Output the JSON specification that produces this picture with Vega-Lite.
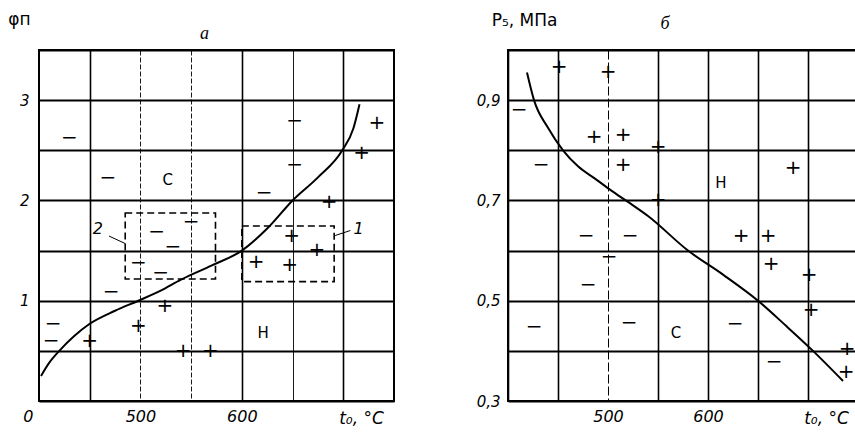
{
  "$schema": "https://vega.github.io/schema/vega-lite/v6.json",
  "background": "white",
  "padding": {"left": 6, "top": 9, "right": 0, "bottom": 0},
  "bounds": "flush",
  "spacing": 114,
  "config": {
    "font": "DejaVu Sans",
    "view": {"stroke": "black", "strokeWidth": 2},
    "axis": {"labelColor": "black", "titleColor": "black", "labelFontStyle": "italic", "labelFont": "DejaVu Sans", "ticks": false, "domain": false, "gridColor": "black", "gridOpacity": 1, "labelOverlap": false, "labelFlush": false, "titleFontWeight": "normal", "titleFont": "DejaVu Sans"},
    "axisX": {"labelFontSize": 16},
    "axisY": {"labelFontSize": 15}
  },
  "datasets": {
    "lc": [{"t":402,"v":0.25},{"t":410,"v":0.38},{"t":420,"v":0.5},{"t":435,"v":0.65},{"t":450,"v":0.77},{"t":475,"v":0.9},{"t":498,"v":1.0},{"t":520,"v":1.1},{"t":540,"v":1.21},{"t":570,"v":1.35},{"t":600,"v":1.5},{"t":625,"v":1.72},{"t":650,"v":2.0},{"t":675,"v":2.23},{"t":699,"v":2.5},{"t":710,"v":2.72},{"t":716,"v":2.96}],
    "lm": [
      {"t":430,"v":2.62,"s":"−"},{"t":468,"v":2.22,"s":"−"},{"t":652,"v":2.79,"s":"−"},{"t":652,"v":2.35,"s":"−"},{"t":622,"v":2.07,"s":"−"},
      {"t":733,"v":2.77,"s":"+"},{"t":718,"v":2.47,"s":"+"},{"t":686,"v":1.98,"s":"+"},
      {"t":516,"v":1.69,"s":"−"},{"t":550,"v":1.78,"s":"−"},{"t":532,"v":1.54,"s":"−"},{"t":498,"v":1.38,"s":"−"},{"t":520,"v":1.28,"s":"−"},
      {"t":471,"v":1.09,"s":"−"},{"t":414,"v":0.77,"s":"−"},{"t":412,"v":0.6,"s":"−"},
      {"t":450,"v":0.6,"s":"+"},{"t":498,"v":0.75,"s":"+"},{"t":524,"v":0.95,"s":"+"},{"t":542,"v":0.5,"s":"+"},{"t":569,"v":0.5,"s":"+"},
      {"t":649,"v":1.65,"s":"+"},{"t":674,"v":1.51,"s":"+"},{"t":614,"v":1.39,"s":"+"},{"t":647,"v":1.36,"s":"+"}
    ],
    "ll": [{"t":527,"v":2.2,"s":"С"},{"t":621,"v":0.68,"s":"Н"}],
    "ln": [{"t":458,"v":1.72,"s":"2"},{"t":715,"v":1.72,"s":"1"}],
    "lb": [{"t":485,"t2":574,"v":1.217,"v2":1.875},{"t":600,"t2":691,"v":1.19,"v2":1.745}],
    "lr": [{"t":469,"v":1.645,"t2":485,"v2":1.57},{"t":692,"v":1.65,"t2":707,"v2":1.7}],
    "rc": [{"t":419,"v":0.955},{"t":426,"v":0.9},{"t":440,"v":0.845},{"t":455,"v":0.8},{"t":470,"v":0.768},{"t":488,"v":0.742},{"t":503,"v":0.72},{"t":520,"v":0.697},{"t":540,"v":0.669},{"t":580,"v":0.6},{"t":615,"v":0.552},{"t":650,"v":0.5},{"t":678,"v":0.45},{"t":705,"v":0.4},{"t":735,"v":0.34}],
    "rm": [
      {"t":451,"v":0.967,"s":"+"},{"t":500,"v":0.956,"s":"+"},{"t":411,"v":0.88,"s":"−"},{"t":486,"v":0.827,"s":"+"},{"t":515,"v":0.83,"s":"+"},{"t":550,"v":0.807,"s":"+"},
      {"t":433,"v":0.77,"s":"−"},{"t":515,"v":0.77,"s":"+"},{"t":685,"v":0.765,"s":"+"},{"t":550,"v":0.7,"s":"+"},
      {"t":478,"v":0.63,"s":"−"},{"t":522,"v":0.63,"s":"−"},{"t":633,"v":0.63,"s":"+"},{"t":660,"v":0.63,"s":"+"},
      {"t":501,"v":0.587,"s":"−"},{"t":480,"v":0.531,"s":"−"},{"t":663,"v":0.573,"s":"+"},{"t":701,"v":0.551,"s":"+"},{"t":703,"v":0.482,"s":"+"},
      {"t":426,"v":0.448,"s":"−"},{"t":521,"v":0.456,"s":"−"},{"t":627,"v":0.454,"s":"−"},{"t":666,"v":0.378,"s":"−"},{"t":739,"v":0.404,"s":"+"},{"t":738,"v":0.358,"s":"+"}
    ],
    "rl": [{"t":613,"v":0.735,"s":"Н"},{"t":568,"v":0.436,"s":"С"}]
  },
  "hconcat": [
    {
      "width": 355,
      "height": 351,
      "title": {"text": "а", "frame": "group", "font": "Liberation Serif", "fontStyle": "italic", "fontWeight": "normal", "fontSize": 18, "offset": -33, "dx": -12},
      "layer": [
        {
          "data": {"name": "lc"},
          "mark": {"type": "line", "color": "black", "strokeWidth": 2, "interpolate": "monotone"},
          "encoding": {
            "x": {"field": "t", "type": "quantitative", "scale": {"domain": [400, 750], "nice": false, "zero": false},
              "axis": {"values": [400,450,500,550,600,650,700,750], "grid": true,
                "labelExpr": "datum.value == 400 ? '0' : (datum.value == 500 || datum.value == 600) ? datum.label : ''",
                "labelAlign": {"condition": {"test": "datum.value == 400", "value": "right"}, "value": "center"},
                "labelOffset": {"condition": {"test": "datum.value == 400", "value": -6}, "value": 0},
                "labelPadding": 7,
                "gridWidth": {"condition": {"test": "datum.value == 450 || datum.value == 600 || datum.value == 700", "value": 1.6}, "value": 0.9},
                "gridDash": {"condition": {"test": "datum.value == 500 || datum.value == 550", "value": [5, 2]}, "value": []},
                "title": "t₀, °C", "titleX": 322, "titleY": 22, "titleAlign": "center", "titleBaseline": "alphabetic", "titleFontSize": 17, "titleFontStyle": "italic"}},
            "y": {"field": "v", "type": "quantitative", "scale": {"domain": [0, 3.5], "nice": false, "zero": false},
              "axis": {"values": [0,0.5,1,1.5,2,2.5,3,3.5], "grid": true, "gridWidth": 1.8,
                "labelExpr": "(datum.value == 1 || datum.value == 2 || datum.value == 3) ? format(datum.value, 'd') : ''",
                "labelPadding": 10,
                "title": "φп", "titleAngle": 0, "titleX": -20, "titleY": -26, "titleAlign": "center", "titleBaseline": "alphabetic", "titleFontSize": 17, "titleFontStyle": "normal"}}
          }
        },
        {
          "data": {"name": "lb"},
          "mark": {"type": "rect", "fillOpacity": 0, "stroke": "black", "strokeWidth": 1.6, "strokeDash": [7, 4]},
          "encoding": {"x": {"field": "t", "type": "quantitative"}, "x2": {"field": "t2"}, "y": {"field": "v", "type": "quantitative"}, "y2": {"field": "v2"}}
        },
        {
          "data": {"name": "lr"},
          "mark": {"type": "rule", "color": "black", "strokeWidth": 1},
          "encoding": {"x": {"field": "t", "type": "quantitative"}, "x2": {"field": "t2"}, "y": {"field": "v", "type": "quantitative"}, "y2": {"field": "v2"}}
        },
        {
          "data": {"name": "lm"},
          "mark": {"type": "text", "font": "DejaVu Sans", "fontSize": 20, "align": "center", "baseline": "middle", "color": "black"},
          "encoding": {"x": {"field": "t", "type": "quantitative"}, "y": {"field": "v", "type": "quantitative"}, "text": {"field": "s"}}
        },
        {
          "data": {"name": "ll"},
          "mark": {"type": "text", "font": "DejaVu Sans", "fontSize": 15, "align": "center", "baseline": "middle", "color": "black"},
          "encoding": {"x": {"field": "t", "type": "quantitative"}, "y": {"field": "v", "type": "quantitative"}, "text": {"field": "s"}}
        },
        {
          "data": {"name": "ln"},
          "mark": {"type": "text", "font": "DejaVu Sans", "fontSize": 16, "fontStyle": "italic", "align": "center", "baseline": "middle", "color": "black"},
          "encoding": {"x": {"field": "t", "type": "quantitative"}, "y": {"field": "v", "type": "quantitative"}, "text": {"field": "s"}}
        }
      ]
    },
    {
      "width": 350,
      "height": 351,
      "title": {"text": "б", "frame": "group", "font": "Liberation Serif", "fontStyle": "italic", "fontWeight": "normal", "fontSize": 18, "offset": -22, "dx": -18},
      "layer": [
        {
          "data": {"name": "rc"},
          "mark": {"type": "line", "color": "black", "strokeWidth": 2, "interpolate": "monotone"},
          "encoding": {
            "x": {"field": "t", "type": "quantitative", "scale": {"domain": [400, 750], "nice": false, "zero": false},
              "axis": {"values": [400,450,500,550,600,650,700,750], "grid": true,
                "labelExpr": "(datum.value == 500 || datum.value == 600) ? datum.label : ''",
                "labelPadding": 7,
                "gridWidth": {"condition": {"test": "datum.value == 500", "value": 1}, "value": 1.6},
                "gridDash": {"condition": {"test": "datum.value == 500", "value": [9, 3]}, "value": []},
                "title": "t₀, °C", "titleX": 318, "titleY": 22, "titleAlign": "center", "titleBaseline": "alphabetic", "titleFontSize": 17, "titleFontStyle": "italic"}},
            "y": {"field": "v", "type": "quantitative", "scale": {"domain": [0.3, 1.0], "nice": false, "zero": false},
              "axis": {"values": [0.3,0.4,0.5,0.6,0.7,0.8,0.9,1.0], "grid": true, "gridWidth": 1.8,
                "labelExpr": "(datum.value == 0.3 || datum.value == 0.5 || datum.value == 0.7 || datum.value == 0.9) ? replace(format(datum.value, '.1f'), '.', ',') : ''",
                "labelPadding": 8,
                "title": "P₅, МПа", "titleAngle": 0, "titleX": 16, "titleY": -25, "titleAlign": "center", "titleBaseline": "alphabetic", "titleFontSize": 17, "titleFontStyle": "normal"}}
          }
        },
        {
          "data": {"name": "rm"},
          "mark": {"type": "text", "font": "DejaVu Sans", "fontSize": 20, "align": "center", "baseline": "middle", "color": "black"},
          "encoding": {"x": {"field": "t", "type": "quantitative"}, "y": {"field": "v", "type": "quantitative"}, "text": {"field": "s"}}
        },
        {
          "data": {"name": "rl"},
          "mark": {"type": "text", "font": "DejaVu Sans", "fontSize": 15, "align": "center", "baseline": "middle", "color": "black"},
          "encoding": {"x": {"field": "t", "type": "quantitative"}, "y": {"field": "v", "type": "quantitative"}, "text": {"field": "s"}}
        }
      ]
    }
  ]
}
